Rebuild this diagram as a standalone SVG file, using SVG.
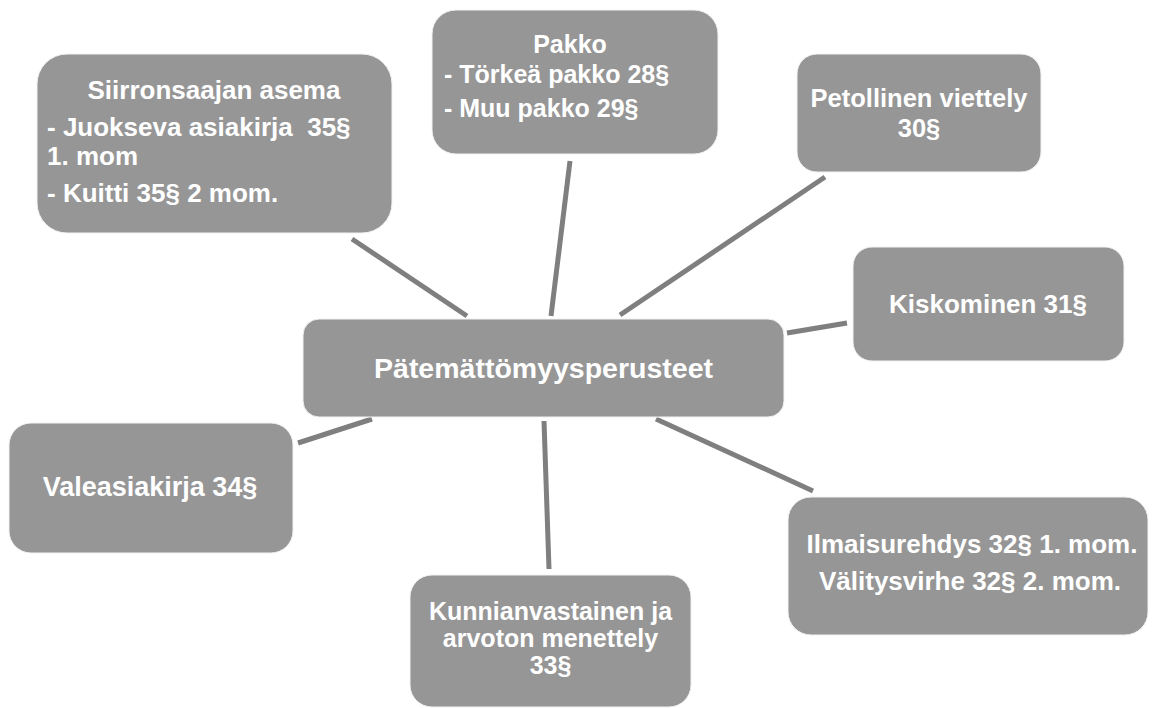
<svg xmlns="http://www.w3.org/2000/svg" width="1156" height="708" viewBox="0 0 1156 708">
<style>
.box{fill:#969696;stroke:#f2f2f2;stroke-width:1}
.t{font-family:"Liberation Sans",Arial,sans-serif;font-weight:bold;fill:#ffffff;font-size:26px}
.c{text-anchor:middle}
.conn line{stroke:#7f7f7f;stroke-width:5}
</style>
<rect width="1156" height="708" fill="#ffffff"/>
<g id="connectors" class="conn">
<line x1="352" y1="239" x2="467" y2="316"/>
<line x1="570" y1="161" x2="551" y2="316"/>
<line x1="825" y1="177" x2="620" y2="315"/>
<line x1="847" y1="323" x2="787" y2="333"/>
<line x1="298" y1="443" x2="372" y2="419"/>
<line x1="544" y1="421" x2="549" y2="569"/>
<line x1="656" y1="419" x2="813" y2="491"/>
</g>
<g id="center">
<rect class="box" x="303" y="319" width="481" height="98" rx="16"/>
<text class="t c" x="543.5" y="378" style="font-size:28.5px">Pätemättömyysperusteet</text>
</g>
<g id="siirronsaajan">
<rect class="box" x="37" y="54" width="355" height="179" rx="30"/>
<text class="t c" x="214" y="99">Siirronsaajan asema</text>
<text class="t" x="47" y="136" xml:space="preserve">- Juokseva asiakirja  35§</text>
<text class="t" x="47" y="165">1. mom</text>
<text class="t" x="47" y="202">- Kuitti 35§ 2 mom.</text>
</g>
<g id="pakko">
<rect class="box" x="432" y="10" width="286" height="144" rx="24"/>
<text class="t c" x="570" y="53" style="font-size:25px">Pakko</text>
<text class="t" x="444" y="83" style="font-size:25px">- Törkeä pakko 28§</text>
<text class="t" x="444" y="117" style="font-size:25px">- Muu pakko 29§</text>
</g>
<g id="petollinen">
<rect class="box" x="797" y="54" width="244" height="118" rx="20"/>
<text class="t c" x="919" y="107" style="font-size:25.5px">Petollinen viettely</text>
<text class="t c" x="919" y="137" style="font-size:25.5px">30§</text>
</g>
<g id="kiskominen">
<rect class="box" x="853" y="247" width="271" height="114" rx="19"/>
<text class="t c" x="988" y="313">Kiskominen 31§</text>
</g>
<g id="valeasiakirja">
<rect class="box" x="9" y="423" width="284" height="130" rx="22"/>
<text class="t c" x="150" y="496" style="font-size:27px">Valeasiakirja 34§</text>
</g>
<g id="ilmaisurehdys">
<rect class="box" x="788" y="497" width="360" height="138" rx="23"/>
<text class="t c" x="972" y="553">Ilmaisurehdys 32§ 1. mom.</text>
<text class="t c" x="970" y="590">Välitysvirhe 32§ 2. mom.</text>
</g>
<g id="kunnian">
<rect class="box" x="410" y="575" width="281" height="132" rx="22"/>
<text class="t c" x="550.5" y="620" style="font-size:25px">Kunnianvastainen ja</text>
<text class="t c" x="550.5" y="647" style="font-size:25px">arvoton menettely</text>
<text class="t c" x="550.5" y="674" style="font-size:25px">33§</text>
</g>
</svg>
